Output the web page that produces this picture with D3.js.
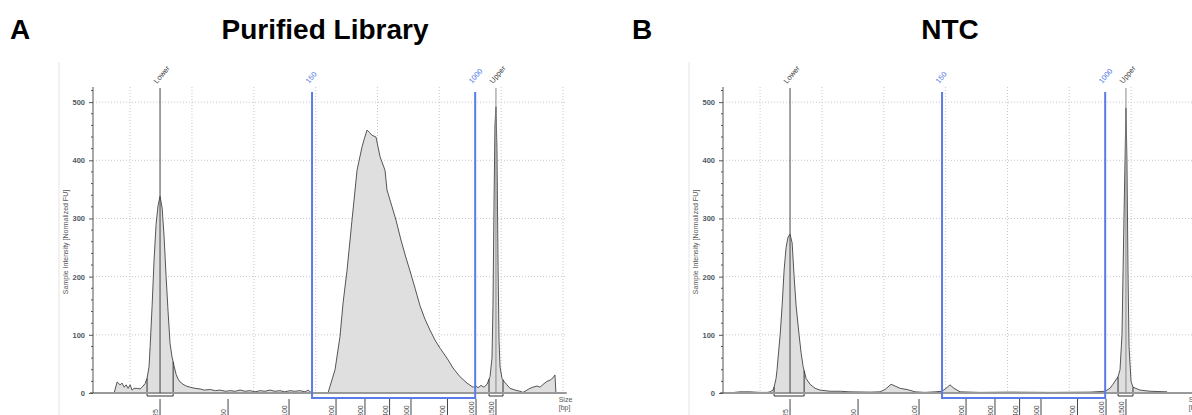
<!DOCTYPE html>
<html>
<head>
<meta charset="utf-8">
<script src="https://cdn.jsdelivr.net/npm/d3@7"></script>
<style>
  body { margin: 0; background: #fff; }
  svg { display: block; font-family: "Liberation Sans", Arial, sans-serif; }
</style>
</head>
<body>
<div id="chart"></div>
<script>
// ladder calibration: size label (bp) and where it falls on the migration axis
var sizeLabels = [25, 50, 100, 200, 300, 400, 500, 700, 1000, 1500];
var sizePos = [22.42, 27.92, 32.85, 36.65, 38.99, 40.98, 42.71, 45.66, 47.97, 49.58];

var yTicks = [0, 100, 200, 300, 400, 500];
var gridPos = [20, 25, 30, 35, 40, 45, 50, 55];

// markers (migration units)
var lowerPos = 22.42, upperPos = 49.58;
var regionLabels = ["150", "1000"];
var regionPos = [34.71, 47.9];

var titles = ["Purified Library", "NTC"];
var letters = ["A", "B"];

// panel A trace: migration, intensity
var traceA_x = [18.71, 18.95, 19.19, 19.35, 19.52, 19.68, 19.84, 20.0, 20.16, 20.32, 20.57, 20.81, 20.97, 21.21, 21.37, 21.53, 21.62, 21.78, 21.94, 22.1, 22.26, 22.42, 22.59, 22.75, 22.91, 23.07, 23.23, 23.39, 23.56, 23.72, 23.88, 24.04, 24.28, 24.53, 24.85, 25.25, 25.66,
  26.0, 26.47, 26.9, 27.27, 27.7, 28.08, 28.5, 28.89, 29.3, 29.7, 30.1, 30.51, 30.9, 31.32, 31.7, 32.12, 32.5, 32.93, 33.3, 33.74, 34.15, 34.4, 34.55, 34.8, 36.0,
  36.57, 36.97, 37.22, 37.54, 37.94, 38.35, 38.75, 38.95, 39.16, 39.35, 39.56, 39.88, 40.21, 40.61, 40.77, 41.18, 41.5, 41.9, 42.31, 42.63, 43.04, 43.44, 43.84, 44.25, 44.65, 45.06, 45.62, 46.11, 46.67, 47.24, 47.72, 47.97, 48.13, 48.37, 48.61, 48.86,
  49.1, 49.26, 49.34, 49.42, 49.5, 49.58, 49.66, 49.75, 49.83, 49.91, 50.07, 50.31, 50.47, 50.72, 51.12, 51.52, 51.77, 52.33, 52.57, 52.9, 53.14, 53.46, 53.71, 53.95, 54.19, 54.35, 54.43];
var traceA_y = [0, 19, 14, 17, 10, 14, 8, 14, 5, 8, 8, 7, 10, 16, 25, 45, 80, 150, 230, 290, 322, 338, 318, 268, 200, 140, 85, 62, 46, 32, 24, 19, 15, 12, 10, 8, 7,
  5, 6, 4, 5, 3, 4, 3, 5, 3, 4, 2, 4, 3, 5, 3, 4, 2, 4, 3, 4, 2, 5, 2, 0, 0,
  40, 97, 155, 211, 297, 383, 423, 438, 452, 448, 443, 440, 406, 383, 349, 320, 297, 263, 232, 210, 180, 150, 127, 108, 91, 77, 60, 43, 28, 17, 10, 12, 9, 13, 10, 15,
  28, 60, 150, 320, 460, 492, 420, 220, 90, 45, 25, 18, 14, 8, 5, 3, 1, 8, 10, 12, 10, 16, 20, 22, 26, 31, 0];

// panel B trace
var traceB_x = [17.9, 18.38, 19.19, 19.6, 20.0, 20.57, 20.81, 21.05, 21.13, 21.29, 21.37, 21.45, 21.62, 21.78, 21.94, 22.1, 22.26, 22.42, 22.59, 22.75, 22.91, 23.15, 23.31, 23.48, 23.72, 24.04, 24.45, 24.85, 25.66, 26.47, 27.27, 28.89,
  29.7, 30.1, 30.59, 30.91, 31.32, 31.88, 32.53, 33.34, 34.15, 34.71, 35.03, 35.36, 35.68, 36.17, 37.78, 40.21, 43.44, 46.67, 47.89, 48.29, 48.53, 48.94,
  49.1, 49.26, 49.42, 49.58, 49.66, 49.75, 49.83, 49.99, 50.15, 50.72, 51.52, 52.9, 52.98];
var traceB_y = [1, 2, 2, 1.5, 1, 1, 2, 5, 10, 25, 40, 60, 100, 150, 211, 250, 268, 273, 258, 200, 150, 100, 70, 45, 25, 15, 8, 5, 3, 3, 2, 1.5,
  2, 6, 15, 12, 8, 6, 2, 1, 2, 3, 8, 14, 8, 2, 1, 1.5, 1, 1.5, 3, 8, 15, 28,
  40, 100, 300, 490, 400, 200, 80, 20, 10, 5, 3, 2, 0];

// peak integration boxes [start, end]
var lowerBoxA = [21.37, 23.48], upperBoxA = [49.02, 50.15];
var lowerBoxB = [21.13, 23.56], upperBoxB = [48.94, 50.15];

var width = 1192, height = 415;
var blue = "#5a7ce8";

var svg = d3.select("#chart").append("svg")
  .attr("width", width)
  .attr("height", height);

function interp(xs, ys, u) {
  for (var i = 1; i < xs.length; i++) {
    if (xs[i] >= u) {
      var t = (u - xs[i - 1]) / (xs[i] - xs[i - 1]);
      return ys[i - 1] + t * (ys[i] - ys[i - 1]);
    }
  }
  return 0;
}

function drawPanel(offset, xs, ys, lowerBox, upperBox) {
  var g = svg.append("g").attr("transform", "translate(" + offset + ",0)");

  var x = d3.scaleLinear().domain([17, 55.3]).range([93, 566.7]);
  var y = d3.scaleLinear().domain([0, 526]).range([393, 87]);

  // faint frame line
  g.append("line")
    .attr("x1", 59).attr("x2", 59).attr("y1", 62).attr("y2", height)
    .attr("stroke", "#e4e4e4");

  // grid
  g.append("g").selectAll("line").data(gridPos).enter().append("line")
    .attr("x1", d => x(d)).attr("x2", d => x(d))
    .attr("y1", y(526)).attr("y2", y(0))
    .attr("stroke", "#c8c8c8").attr("stroke-dasharray", "1,2");
  g.append("g").selectAll("line").data(yTicks.slice(1)).enter().append("line")
    .attr("x1", x(17)).attr("x2", x(55.3))
    .attr("y1", d => y(d)).attr("y2", d => y(d))
    .attr("stroke", "#c8c8c8").attr("stroke-dasharray", "1,2");

  // trace
  var pts = xs.map((d, i) => [d, ys[i]]);
  g.append("path").datum(pts)
    .attr("fill", "#dfdfdf")
    .attr("d", d3.area().x(d => x(d[0])).y0(y(0)).y1(d => y(d[1])));
  g.append("path").datum(pts)
    .attr("fill", "none").attr("stroke", "#555").attr("stroke-width", 1)
    .attr("d", d3.line().x(d => x(d[0])).y(d => y(d[1])));

  // peak boxes
  [lowerBox, upperBox].forEach(function(b) {
    var p = d3.path();
    p.moveTo(x(b[0]), y(interp(xs, ys, b[0])));
    p.lineTo(x(b[0]), y(0) + 3);
    p.lineTo(x(b[1]), y(0) + 3);
    p.lineTo(x(b[1]), y(interp(xs, ys, b[1])));
    g.append("path").attr("d", p.toString())
      .attr("fill", "none").attr("stroke", "#333").attr("stroke-width", 1);
  });

  // x axis line
  g.append("line")
    .attr("x1", x(17) - 3).attr("x2", x(55.3))
    .attr("y1", y(0)).attr("y2", y(0))
    .attr("stroke", "#999").attr("stroke-width", 2);

  // y axis
  var yAxis = g.append("g").attr("transform", "translate(" + x(17) + ",0)")
    .call(d3.axisLeft(y).tickValues(yTicks).tickSize(4).tickPadding(4));
  yAxis.select(".domain").attr("stroke", "#555").attr("d", "M0," + y(526) + "V" + y(0));
  yAxis.selectAll(".tick line").attr("stroke", "#555");
  yAxis.selectAll(".tick text")
    .attr("font-size", 7.5).attr("font-weight", "bold").attr("fill", "#4e5965")
    .attr("font-family", "Liberation Sans, Arial, sans-serif");
  yAxis.append("g").selectAll("line").data(d3.range(20, 526, 20).filter(d => d % 100 !== 0))
    .enter().append("line")
    .attr("x1", -2).attr("x2", 0).attr("y1", d => y(d)).attr("y2", d => y(d))
    .attr("stroke", "#555");

  g.append("text")
    .attr("transform", "translate(68," + 242 + ") rotate(-90)")
    .attr("text-anchor", "middle")
    .attr("font-size", 7).attr("fill", "#555")
    .text("Sample Intensity [Normalized FU]");

  // marker lines
  g.append("line")
    .attr("x1", x(lowerPos)).attr("x2", x(lowerPos)).attr("y1", 88).attr("y2", y(0))
    .attr("stroke", "#444");
  g.append("line")
    .attr("x1", x(upperPos)).attr("x2", x(upperPos)).attr("y1", 88).attr("y2", y(0))
    .attr("stroke", "#888");

  // region bracket
  var rp = d3.path();
  rp.moveTo(x(regionPos[0]), 92);
  rp.lineTo(x(regionPos[0]), y(0) + 5);
  rp.lineTo(x(regionPos[1]), y(0) + 5);
  rp.lineTo(x(regionPos[1]), 92);
  g.append("path").attr("d", rp.toString())
    .attr("fill", "none").attr("stroke", blue).attr("stroke-width", 2);

  // top labels
  var topLabels = [
    { t: "Lower", u: lowerPos, c: "#444" },
    { t: regionLabels[0], u: regionPos[0], c: blue },
    { t: regionLabels[1], u: regionPos[1], c: blue },
    { t: "Upper", u: upperPos, c: "#444" }
  ];
  g.append("g").selectAll("text").data(topLabels).enter().append("text")
    .attr("transform", d => "translate(" + (x(d.u) - 3) + ",84) rotate(-50)")
    .attr("font-size", 7.5).attr("fill", d => d.c)
    .text(d => d.t);

  // size ticks below axis
  var st = g.append("g");
  st.selectAll("line").data(sizePos).enter().append("line")
    .attr("x1", d => x(d)).attr("x2", d => x(d))
    .attr("y1", 399).attr("y2", height)
    .attr("stroke", "#444");
  st.selectAll("text").data(sizeLabels).enter().append("text")
    .attr("transform", (d, i) => "translate(" + (x(sizePos[i]) - 2) + ",417) rotate(-90)")
    .attr("font-size", 7).attr("fill", "#444")
    .text(d => d);

  g.append("text").attr("x", x(55.3) - 8).attr("y", 402)
    .attr("font-size", 7).attr("fill", "#555").text("Size");
  g.append("text").attr("x", x(55.3) - 8).attr("y", 410)
    .attr("font-size", 7).attr("fill", "#555").text("[bp]");
}

drawPanel(0, traceA_x, traceA_y, lowerBoxA, upperBoxA);
drawPanel(630, traceB_x, traceB_y, lowerBoxB, upperBoxB);

// titles
var letterX = [10, 632], titleX = [325, 950];
letters.forEach(function(l, i) {
  svg.append("text").attr("x", letterX[i]).attr("y", 39)
    .attr("font-size", 28).attr("font-weight", "bold").text(l);
  svg.append("text").attr("x", titleX[i]).attr("y", 39)
    .attr("text-anchor", "middle")
    .attr("font-size", 28).attr("font-weight", "bold").text(titles[i]);
});
</script>
</body>
</html>
